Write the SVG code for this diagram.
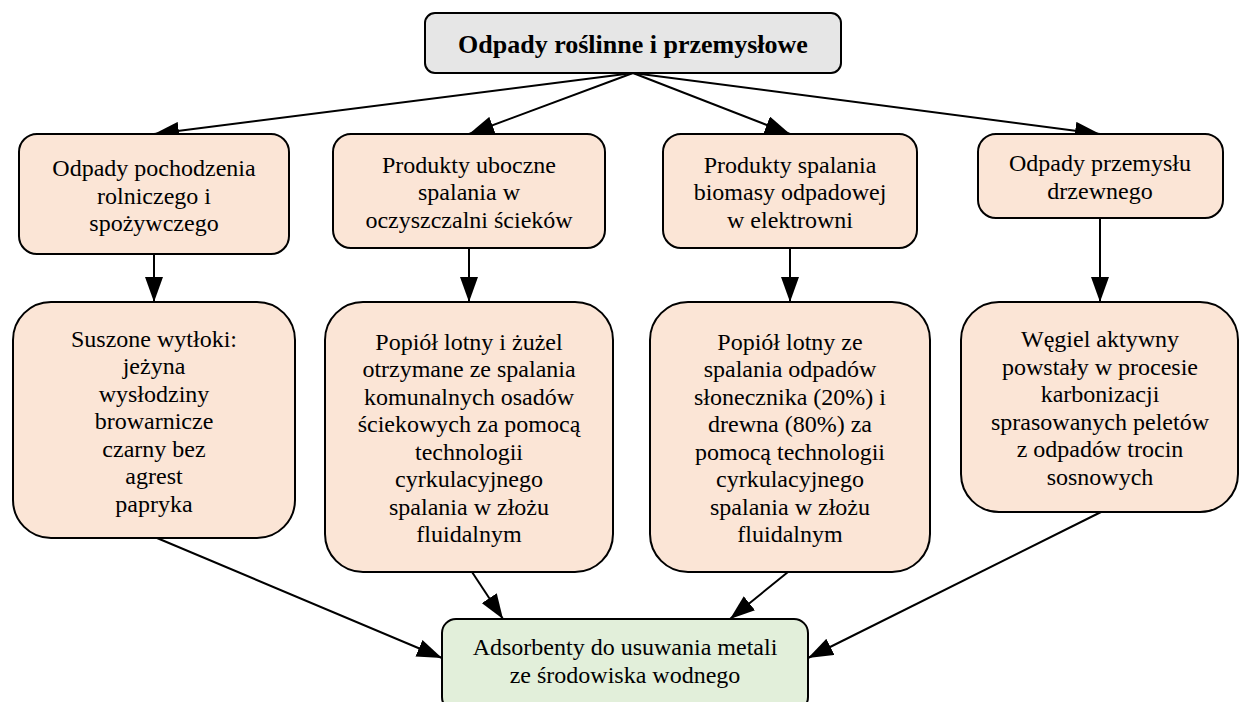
<svg xmlns="http://www.w3.org/2000/svg" width="1241" height="702" viewBox="0 0 1241 702">
<style>
.box{stroke:#000;stroke-width:2}
.src{fill:#fbe5d6}
.top{fill:#e6e6e6}
.res{fill:#e2efda}
text{font-family:"Liberation Serif","Times New Roman",serif;font-size:24px;fill:#000;text-anchor:middle}
.title{font-weight:bold;font-size:26px}
.edge{stroke:#000;stroke-width:2;fill:none;marker-end:url(#ah)}
</style>
<defs>
<marker id="ah" markerUnits="userSpaceOnUse" markerWidth="26" markerHeight="18" refX="25" refY="9" orient="auto">
<path d="M0,0 L25,9 L0,18 z" fill="#000"/>
</marker>
</defs>
<rect width="1241" height="702" fill="#fff"/>
<g id="connectors">
<line class="edge" x1="633" y1="73" x2="154" y2="134"/>
<line class="edge" x1="633" y1="73" x2="469" y2="134"/>
<line class="edge" x1="633" y1="73" x2="790" y2="134"/>
<line class="edge" x1="633" y1="73" x2="1100" y2="134"/>
<line class="edge" x1="154" y1="254" x2="154" y2="302"/>
<line class="edge" x1="469" y1="248" x2="469" y2="302"/>
<line class="edge" x1="790" y1="248" x2="790" y2="302"/>
<line class="edge" x1="1100" y1="218" x2="1100" y2="302"/>
<line class="edge" x1="157" y1="538" x2="442" y2="658"/>
<line class="edge" x1="472" y1="572" x2="503" y2="619"/>
<line class="edge" x1="788" y1="572" x2="730" y2="619"/>
<line class="edge" x1="1101" y1="512" x2="808" y2="658"/>
</g>
<g id="top">
<rect class="box top" x="425" y="13" width="416" height="60" rx="10"/>
<text class="title" x="633" y="53">Odpady roślinne i przemysłowe</text>
</g>
<g id="n1">
<rect class="box src" x="19" y="134" width="270" height="120" rx="18"/>
<text x="154" y="176">Odpady pochodzenia</text>
<text x="154" y="203.5">rolniczego i</text>
<text x="154" y="231">spożywczego</text>
</g>
<g id="n2">
<rect class="box src" x="333" y="134" width="272" height="114" rx="18"/>
<text x="469" y="172.5">Produkty uboczne</text>
<text x="469" y="200">spalania w</text>
<text x="469" y="227.5">oczyszczalni ścieków</text>
</g>
<g id="n3">
<rect class="box src" x="663" y="134" width="254" height="114" rx="18"/>
<text x="790" y="172.5">Produkty spalania</text>
<text x="790" y="200">biomasy odpadowej</text>
<text x="790" y="227.5">w elektrowni</text>
</g>
<g id="n4">
<rect class="box src" x="978" y="134" width="245" height="84" rx="18"/>
<text x="1100" y="171">Odpady przemysłu</text>
<text x="1100" y="198.5">drzewnego</text>
</g>
<g id="n5">
<rect class="box src" x="13" y="302" width="282" height="236" rx="38"/>
<text x="154" y="346.5">Suszone wytłoki:</text>
<text x="154" y="374">jeżyna</text>
<text x="154" y="401.5">wysłodziny</text>
<text x="154" y="429">browarnicze</text>
<text x="154" y="456.5">czarny bez</text>
<text x="154" y="484">agrest</text>
<text x="154" y="511.5">papryka</text>
</g>
<g id="n6">
<rect class="box src" x="325" y="302" width="288" height="270" rx="38"/>
<text x="469" y="349.5">Popiół lotny i żużel</text>
<text x="469" y="377">otrzymane ze spalania</text>
<text x="469" y="404.5">komunalnych osadów</text>
<text x="469" y="432">ściekowych za pomocą</text>
<text x="469" y="459.5">technologii</text>
<text x="469" y="487">cyrkulacyjnego</text>
<text x="469" y="514.5">spalania w złożu</text>
<text x="469" y="542">fluidalnym</text>
</g>
<g id="n7">
<rect class="box src" x="650" y="302" width="280" height="270" rx="38"/>
<text x="790" y="349.5">Popiół lotny ze</text>
<text x="790" y="377">spalania odpadów</text>
<text x="790" y="404.5">słonecznika (20%) i</text>
<text x="790" y="432">drewna (80%) za</text>
<text x="790" y="459.5">pomocą technologii</text>
<text x="790" y="487">cyrkulacyjnego</text>
<text x="790" y="514.5">spalania w złożu</text>
<text x="790" y="542">fluidalnym</text>
</g>
<g id="n8">
<rect class="box src" x="961" y="302" width="277" height="210" rx="38"/>
<text x="1100" y="347">Węgiel aktywny</text>
<text x="1100" y="374.5">powstały w procesie</text>
<text x="1100" y="402">karbonizacji</text>
<text x="1100" y="429.5">sprasowanych peletów</text>
<text x="1100" y="457">z odpadów trocin</text>
<text x="1100" y="484.5">sosnowych</text>
</g>
<g id="result">
<rect class="box res" x="442" y="619" width="366" height="92" rx="14"/>
<text x="625" y="655">Adsorbenty do usuwania metali</text>
<text x="625" y="683">ze środowiska wodnego</text>
</g>
</svg>
